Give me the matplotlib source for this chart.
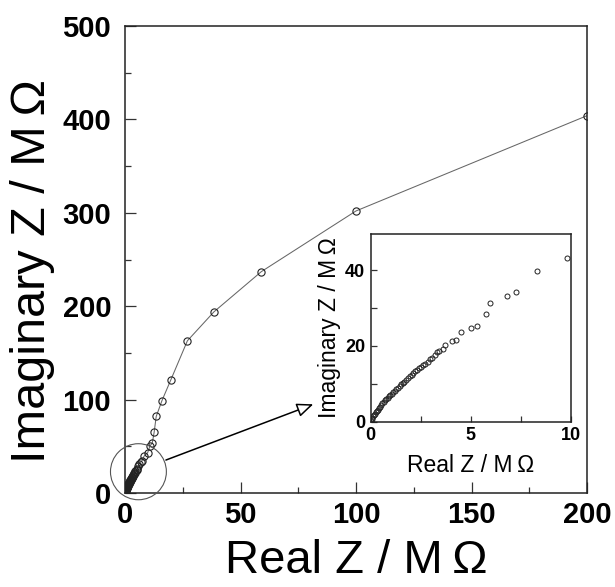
import matplotlib
matplotlib.use("Agg")
import matplotlib.pyplot as plt
from matplotlib.patches import Ellipse

plt.rcParams['font.family'] = ['Liberation Sans', 'DejaVu Sans']

# Impedance data (Real Z, Imaginary Z) in MOhm, low-frequency range
re_low = [0.02, 0.05, 0.08, 0.12, 0.16, 0.20, 0.25, 0.30, 0.35, 0.40, 0.46, 0.52,
          0.58, 0.64, 0.70, 0.77, 0.84, 0.91, 0.98, 1.05, 1.12, 1.20, 1.28, 1.36,
          1.44, 1.52, 1.60, 1.68, 1.77, 1.86, 1.95, 2.04, 2.13, 2.22, 2.31, 2.41,
          2.51, 2.62, 2.73, 2.86, 2.98, 3.05, 3.22, 3.33, 3.40, 3.63, 3.73, 4.07,
          4.25, 4.53, 5.03, 5.30, 5.75, 5.95, 6.80, 7.27, 8.30, 9.80]
im_low = [0.3, 0.7, 1.0, 1.4, 1.8, 2.1, 2.5, 2.9, 3.2, 3.6, 4.0, 4.4,
          4.8, 5.2, 5.6, 5.9, 6.3, 6.7, 7.0, 7.4, 7.8, 8.2, 8.6, 9.0,
          9.4, 9.9, 10.3, 10.6, 11.1, 11.5, 12.0, 12.4, 12.8, 13.3, 13.7, 14.1,
          14.5, 14.9, 15.3, 15.8, 16.5, 16.9, 17.5, 18.4, 18.6, 19.2, 20.1, 21.3,
          21.6, 23.6, 24.6, 25.3, 28.5, 31.2, 33.2, 34.3, 39.7, 43.2]

# Remaining points at larger impedance
re_high = [10.8, 11.8, 12.6, 13.5, 16.0, 19.8, 27.0, 38.5, 59.0, 100.0, 200.0]
im_high = [50.5, 53.5, 65.0, 82.0, 99.0, 121.0, 163.0, 194.0, 237.0, 302.0, 404.0]

re_all = re_low + re_high
im_all = im_low + im_high

main_xticks = [0, 50, 100, 150, 200]
main_yticks = [0, 100, 200, 300, 400, 500]
inset_xticks = [0, 5, 10]
inset_yticks = [0, 20, 40]

fig = plt.figure(figsize=(6.15, 5.87), dpi=100)
ax = fig.add_axes([0.2033, 0.1601, 0.7512, 0.7956])

ax.plot(re_all, im_all, color='#666666', lw=0.75, zorder=2)
ax.plot(re_all, im_all, ls='none', marker='o', ms=5.2, mfc='none',
        mec='#222222', mew=0.8, zorder=3)

ax.set_xlim(0, 200)
ax.set_ylim(0, 500)
ax.set_xticks(main_xticks)
ax.set_yticks(main_yticks)
ax.set_xticks([25, 75, 125, 175], minor=True)
ax.set_yticks([50, 150, 250, 350, 450], minor=True)
ax.tick_params(which='both', direction='in', top=False, right=False,
               color='#333333', width=0.9)
ax.tick_params(which='major', length=8, labelsize=21)
ax.tick_params(which='minor', length=4)
ax.tick_params(axis='x', which='major', pad=6)
ax.tick_params(axis='y', which='major', pad=10)
for lab in ax.get_xticklabels() + ax.get_yticklabels():
    lab.set_fontweight('bold')
for sp in ax.spines.values():
    sp.set_linewidth(1.1)
    sp.set_color('#222222')

ax.set_xlabel('Real Z / M\u2009\u03a9', fontsize=34)
ax.set_ylabel('Imaginary Z / M\u2009\u03a9', fontsize=35)
ax.xaxis.set_label_coords(0.5, -0.098)
ax.yaxis.set_label_coords(-0.152, 0.475)

# Highlight the low-impedance region and point to the enlarged view
ax.add_patch(Ellipse((5.8, 22.8), width=24.2, height=60, fill=False,
                     ec='#555555', lw=0.8, zorder=4, clip_on=False))
ax.annotate('', xy=(81.5, 95), xytext=(17.7, 35.3),
            arrowprops=dict(arrowstyle='-|>,head_length=1.0,head_width=0.42',
                            fc='white', ec='black', lw=1.1, shrinkA=0, shrinkB=0))

# Enlarged view
axi = fig.add_axes([0.6028, 0.2816, 0.3252, 0.3198])
axi.plot(re_low, im_low, ls='none', marker='o', ms=3.6, mfc='none',
         mec='#222222', mew=0.7)
axi.set_xlim(0, 10)
axi.set_ylim(0, 49.5)
axi.set_xticks(inset_xticks)
axi.set_yticks(inset_yticks)
axi.set_xticks([2.5, 7.5], minor=True)
axi.set_yticks([10, 30], minor=True)
axi.tick_params(which='both', direction='in', top=False, right=False,
                length=4.5, width=0.9, color='#333333')
axi.tick_params(which='major', labelsize=13, pad=4)
for lab in axi.get_xticklabels() + axi.get_yticklabels():
    lab.set_fontweight('bold')
for sp in axi.spines.values():
    sp.set_linewidth(1.1)
    sp.set_color('#222222')
axi.set_xlabel('Real Z / M\u2009\u03a9', fontsize=16.5, labelpad=7)
axi.set_ylabel('Imaginary Z / M\u2009\u03a9', fontsize=16.5, labelpad=3)

fig.savefig('out.png', dpi=100, facecolor='white')
